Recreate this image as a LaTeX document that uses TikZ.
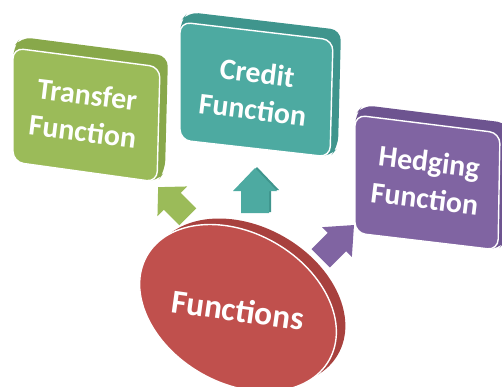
\documentclass[tikz,border=0pt]{standalone}
\usepackage{fontspec}
\setmainfont{Carlito}
\usepackage{tikz}
\usepackage{xcolor}
\usetikzlibrary{shapes,arrows}

\definecolor{greenface}{HTML}{9BBB59}
\definecolor{greenside}{HTML}{88A84A}
\definecolor{tealface}{HTML}{4DAAA1}
\definecolor{tealside}{HTML}{3F958D}
\definecolor{purpleface}{HTML}{8064A2}
\definecolor{purpleside}{HTML}{6D5490}
\definecolor{redface}{HTML}{C0504D}
\definecolor{redside}{HTML}{A8413E}

\begin{document}
\begin{tikzpicture}[x=0.02cm,y=-0.02cm,
    boxtext/.style={text=white,font=\bfseries\fontsize{17}{21}\selectfont,align=center,rotate=-7},
    face/.style={draw=white,line width=0.8pt,rounded corners=6pt},
    side/.style={draw=none,rounded corners=6pt}]
                \useasboundingbox (0,0) rectangle (502,386);

                % Transfer box
                \filldraw[side,fill=greenside] (13,48) -- (21,37) -- (168,56) -- (165,171) -- (157,182) -- (13,162) -- cycle;
                \filldraw[face,fill=greenface] (13,48) -- (160,67) -- (157,182) -- (13,162) -- cycle;
                \node[boxtext] (transfer) at (85,113) {Transfer\\Function};

                % Credit box
                \filldraw[side,fill=tealside] (180,22) -- (188,12) -- (341,30) -- (338,147) -- (330,157) -- (180,140) -- cycle;
                \filldraw[face,fill=tealface] (180,22) -- (333,40) -- (330,157) -- (180,140) -- cycle;
                \node[boxtext] (credit) at (255,91) {Credit\\Function};

                % Hedging box
                \filldraw[side,fill=purpleside] (355,115) -- (363,105) -- (508,123) -- (506,240) -- (498,250) -- (355,233) -- cycle;
                \filldraw[face,fill=purpleface] (355,115) -- (500,133) -- (498,250) -- (355,233) -- cycle;
                \node[boxtext] (hedging) at (427,180) {Hedging\\Function};

                % block arrows
                \filldraw[draw=none,fill=greenface,shift={(173,202)},rotate=135]
                    (-21,-12) -- (1,-12) -- (1,-21) -- (21,0) -- (1,21) -- (1,12) -- (-21,12) -- cycle;
                \filldraw[draw=none,fill=tealside,shift={(257,190)},rotate=90]
                    (-22,-14) -- (0,-14) -- (0,-22) -- (23,0) -- (0,22) -- (0,14) -- (-22,14) -- cycle;
                \filldraw[draw=none,fill=tealface,shift={(255,191)},rotate=90]
                    (-22,-14) -- (0,-14) -- (0,-22) -- (23,0) -- (0,22) -- (0,14) -- (-22,14) -- cycle;
                \filldraw[draw=none,fill=purpleface,shift={(337,242)},rotate=45]
                    (-23,-13) -- (0,-13) -- (0,-21) -- (24,0) -- (0,21) -- (0,13) -- (-23,13) -- cycle;

                % Functions ellipse
                \filldraw[draw=none,fill=redside,rotate around={-30:(247,302)}] (247,302) ellipse [x radius=2.1cm, y radius=1.5cm];
                \filldraw[draw=white,line width=0.8pt,fill=redface,rotate around={-30:(238,308)}] (238,308) ellipse [x radius=2.1cm, y radius=1.5cm];
                \node[text=white,font=\bfseries\fontsize{19}{22}\selectfont,rotate=-8] (functions) at (238,310) {Functions};
            \end{tikzpicture}
\end{document}
